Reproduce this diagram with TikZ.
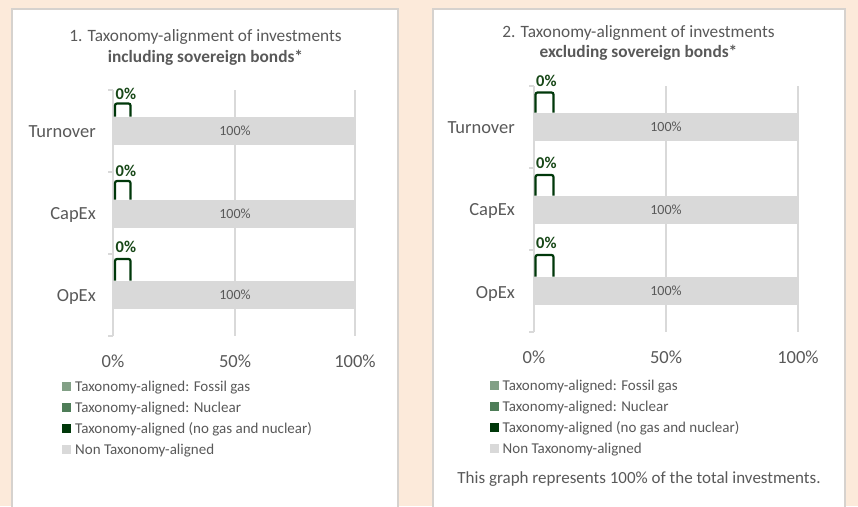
\documentclass[tikz,border=0pt]{standalone}
\usepackage{fontspec}
\setmainfont{Carlito}
\definecolor{peach}{RGB}{252,234,218}
\definecolor{panelborder}{RGB}{214,210,206}
\definecolor{txtgray}{RGB}{89,89,89}
\definecolor{gridgray}{RGB}{217,217,217}
\definecolor{barGray}{RGB}{217,217,217}
\definecolor{gasgreen}{RGB}{130,160,134}
\definecolor{nucgreen}{RGB}{78,125,88}
\definecolor{darkgreen}{RGB}{0,56,10}
\definecolor{labgreen}{RGB}{24,72,24}
\tikzset{
  panelbox/.style={fill=white, draw=panelborder, line width=1.5pt},
  gridline/.style={draw=gridgray, line width=1.3pt},
  databar/.style={fill=barGray, draw=none},
  bracketline/.style={draw=darkgreen, line width=2.2pt, rounded corners=2pt},
  titletxt/.style={text=txtgray, font=\fontsize{17.3}{20}\selectfont, inner sep=0pt},
  cattxt/.style={text=txtgray, font=\fontsize{18.5}{22}\selectfont, inner sep=0pt, anchor=base east},
  axtxt/.style={text=txtgray, font=\fontsize{18.5}{22}\selectfont, inner sep=0pt, anchor=base},
  bartxt/.style={text=txtgray, font=\fontsize{14}{16}\selectfont, inner sep=0pt},
  zerotxt/.style={text=labgreen, font=\bfseries\fontsize{16.5}{18}\selectfont, inner sep=0pt, anchor=base west},
  legtxt/.style={text=txtgray, font=\fontsize{15}{17}\selectfont, inner sep=0pt, anchor=base west},
  legsq/.style={draw=none, minimum size=9pt, inner sep=0pt, anchor=south west},
  foottxt/.style={text=txtgray, font=\fontsize{17}{20}\selectfont, inner sep=0pt, anchor=base},
}
\begin{document}
\begin{tikzpicture}[x=1pt,y=-1pt]
\useasboundingbox (0,0) rectangle (858,506);
\fill[peach] (0,0) rectangle (858,506);
% panels
\path[panelbox] (12,9) rectangle (398,510);
\path[panelbox] (433,9) rectangle (845,510);

%%%%%%%%%%%%%%%% Panel 1 %%%%%%%%%%%%%%%%
\node[titletxt, anchor=base] (t1a) at (205.5,41) {1. Taxonomy-alignment of investments};
\node[titletxt, anchor=base, font=\bfseries\fontsize{17.3}{20}\selectfont] (t1b) at (205.5,62) {including sovereign bonds*};
% grid
\draw[gridline] (235,90) -- (235,336);
\draw[gridline] (355,90) -- (355,336);
\draw[gridline] (113,90) -- (113,336);
\foreach \yy in {90,172,254,336} \draw[gridline] (108,\yy) -- (113,\yy);
% bars
\foreach \yc/\lab in {130.5/a,213.5/b,294.5/c}{
  \path[databar] (113,\yc-14) rectangle (355,\yc+14);
  \node[bartxt] (p1bar\lab) at (235,\yc) {100\%};
}
\node[cattxt] (p1turn) at (96,137) {Turnover};
\node[cattxt] (p1cap) at (96,219.5) {CapEx};
\node[cattxt] (p1op) at (96,301.5) {OpEx};
% zero brackets
\draw[bracketline] (115,116.5) -- (115,103.5) -- (130.5,103.5) -- (130.5,116.5);
\draw[bracketline] (115,199.5) -- (115,181) -- (130.5,181) -- (130.5,199.5);
\draw[bracketline] (115,280.5) -- (115,259) -- (130.5,259) -- (130.5,280.5);
\node[zerotxt] (p1z1) at (115.5,99) {0\%};
\node[zerotxt] (p1z2) at (115.5,176) {0\%};
\node[zerotxt] (p1z3) at (115.5,252.5) {0\%};
% axis labels
\node[axtxt] (p1x0) at (113,367) {0\%};
\node[axtxt] (p1x50) at (235,367) {50\%};
\node[axtxt] (p1x100) at (355,367) {100\%};
% legend
\node[legsq, fill=gasgreen] (p1sq1) at (62,391) {};
\node[legsq, fill=nucgreen] (p1sq2) at (62,412) {};
\node[legsq, fill=darkgreen] (p1sq3) at (62,433) {};
\node[legsq, fill=barGray] (p1sq4) at (62,454) {};
\node[legtxt] (p1l1) at (75,391.7) {Taxonomy-aligned: Fossil gas};
\node[legtxt] (p1l2) at (75,412.3) {Taxonomy-aligned: Nuclear};
\node[legtxt] (p1l3) at (75,433.3) {Taxonomy-aligned (no gas and nuclear)};
\node[legtxt] (p1l4) at (75,454.3) {Non Taxonomy-aligned};

%%%%%%%%%%%%%%%% Panel 2 %%%%%%%%%%%%%%%%
\node[titletxt, anchor=base] (t2a) at (638.5,37) {2. Taxonomy-alignment of investments};
\node[titletxt, anchor=base, font=\bfseries\fontsize{17.3}{20}\selectfont] (t2b) at (638.5,57.5) {excluding sovereign bonds*};
\draw[gridline] (666,86) -- (666,332);
\draw[gridline] (798,86) -- (798,332);
\draw[gridline] (534,86) -- (534,332);
\foreach \yy in {86,168,250,332} \draw[gridline] (529,\yy) -- (534,\yy);
\foreach \yc/\lab in {126.5/a,209.5/b,290.5/c}{
  \path[databar] (534,\yc-14) rectangle (798,\yc+14);
  \node[bartxt] (p2bar\lab) at (666,\yc) {100\%};
}
\node[cattxt] (p2turn) at (515,133) {Turnover};
\node[cattxt] (p2cap) at (515,215.5) {CapEx};
\node[cattxt] (p2op) at (515,298) {OpEx};
\draw[bracketline] (535.5,112.5) -- (535.5,92.5) -- (553.5,92.5) -- (553.5,112.5);
\draw[bracketline] (535.5,195.5) -- (535.5,175) -- (553.5,175) -- (553.5,195.5);
\draw[bracketline] (535.5,276.5) -- (535.5,255) -- (553.5,255) -- (553.5,276.5);
\node[zerotxt] (p2z1) at (536,86) {0\%};
\node[zerotxt] (p2z2) at (536,168.5) {0\%};
\node[zerotxt] (p2z3) at (536,248) {0\%};
\node[axtxt] (p2x0) at (534,363.5) {0\%};
\node[axtxt] (p2x50) at (666,363.5) {50\%};
\node[axtxt] (p2x100) at (798,363.5) {100\%};
\node[legsq, fill=gasgreen] (p2sq1) at (490,390) {};
\node[legsq, fill=nucgreen] (p2sq2) at (490,411.5) {};
\node[legsq, fill=darkgreen] (p2sq3) at (490,432.5) {};
\node[legsq, fill=barGray] (p2sq4) at (490,453) {};
\node[legtxt] (p2l1) at (502.5,390) {Taxonomy-aligned: Fossil gas};
\node[legtxt] (p2l2) at (502.5,411.7) {Taxonomy-aligned: Nuclear};
\node[legtxt] (p2l3) at (502.5,432.7) {Taxonomy-aligned (no gas and nuclear)};
\node[legtxt] (p2l4) at (502.5,453.3) {Non Taxonomy-aligned};
\node[foottxt] (foot) at (639,483.3) {This graph represents 100\% of the total investments.};
\end{tikzpicture}
\end{document}
